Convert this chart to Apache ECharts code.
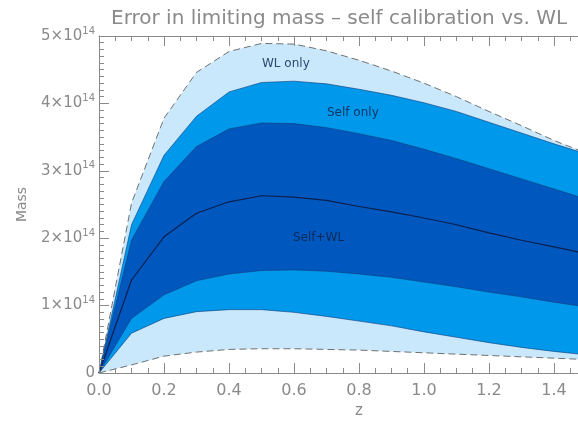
<!DOCTYPE html>
<html>
<head>
<meta charset="utf-8">
<script src="https://cdn.jsdelivr.net/npm/echarts@6/dist/echarts.min.js"></script>
<style>
  html, body { margin: 0; padding: 0; background: #fff; }
  #chart { width: 578px; height: 421px; }
</style>
</head>
<body>
<div id="chart"></div>
<script>
// redshift samples
var zs = [0, 0.1, 0.2, 0.3, 0.4, 0.5, 0.6, 0.7, 0.8, 0.9, 1.0, 1.1, 1.2, 1.3, 1.4, 1.5];
// limiting mass, units of 1e14
var wlUpper   = [0, 2.52, 3.78, 4.46, 4.77, 4.89, 4.88, 4.78, 4.64, 4.48, 4.30, 4.10, 3.88, 3.67, 3.45, 3.26];
var selfUpper = [0, 2.20, 3.23, 3.81, 4.17, 4.31, 4.33, 4.29, 4.21, 4.12, 4.01, 3.88, 3.72, 3.56, 3.40, 3.25];
var swUpper   = [0, 1.97, 2.84, 3.36, 3.62, 3.71, 3.70, 3.64, 3.55, 3.45, 3.32, 3.18, 3.03, 2.88, 2.73, 2.58];
var center    = [0, 1.38, 2.02, 2.37, 2.54, 2.63, 2.61, 2.56, 2.47, 2.39, 2.30, 2.20, 2.08, 1.97, 1.87, 1.77];
var swLower   = [0, 0.81, 1.16, 1.37, 1.47, 1.52, 1.53, 1.51, 1.47, 1.42, 1.35, 1.28, 1.20, 1.13, 1.05, 0.98];
var selfLower = [0, 0.59, 0.81, 0.91, 0.94, 0.94, 0.90, 0.84, 0.77, 0.70, 0.61, 0.53, 0.45, 0.38, 0.32, 0.27];
var wlLower   = [0, 0.12, 0.25, 0.31, 0.35, 0.36, 0.36, 0.35, 0.34, 0.32, 0.30, 0.28, 0.26, 0.24, 0.22, 0.20];

var SCALE = 1e14;
var LIGHT = "#c9e8fb", MID = "#0098ea", DARK = "#0058bf";
var GREY = "#8a8a8a";
var FONT = "DejaVu Sans";

function pairs(arr) {
  return zs.map(function (z, i) { return [z, arr[i] * SCALE]; });
}

// each curve is filled down to zero, drawn top to bottom so the lower ones paint over
function curve(name, arr, fill, line, z) {
  return {
    name: name,
    type: "line",
    symbol: "none",
    data: pairs(arr),
    lineStyle: line,
    areaStyle: { color: fill, opacity: 1 },
    silent: true,
    z: z
  };
}

var thin = { color: "#123a78", width: 0.6 };
var dashed = { color: "#707070", width: 1, type: [7, 4] };

function axisCommon(extra) {
  var base = {
    z: 10,
    axisLine: { show: true, lineStyle: { color: GREY } },
    axisTick: { show: true, inside: true, length: 10, lineStyle: { color: GREY } },
    splitLine: { show: false }
  };
  for (var k in extra) base[k] = extra[k];
  return base;
}

var chart = echarts.init(document.getElementById("chart"));
chart.setOption({
  animation: false,
  backgroundColor: "#fff",
  title: {
    text: "Error in limiting mass \u2013 self calibration vs. WL",
    left: 106,
    top: 4,
    textStyle: { color: GREY, fontFamily: FONT, fontWeight: "normal", fontSize: 20 }
  },
  // plot runs off the right edge, as in the cropped original
  grid: { left: 99, top: 36, right: -41, bottom: 48, containLabel: false, outerBoundsMode: "none" },
  xAxis: [axisCommon({
    type: "value",
    min: 0,
    max: 1.6,
    interval: 0.2,
    name: "z",
    nameLocation: "middle",
    nameGap: 29,
    nameTextStyle: { color: GREY, fontFamily: FONT, fontSize: 15 },
    minorTick: { show: true, splitNumber: 4, length: 5, lineStyle: { color: GREY } },
    axisLabel: {
      color: GREY, fontFamily: FONT, fontSize: 16, margin: 10,
      formatter: function (v) { return v.toFixed(1); }
    }
  }), axisCommon({
    type: "value",
    position: "top",
    min: 0,
    max: 1.6,
    interval: 0.2,
    minorTick: { show: true, splitNumber: 4, length: 5, lineStyle: { color: GREY } },
    axisLabel: { show: false }
  })],
  yAxis: axisCommon({
    type: "value",
    min: 0,
    max: 5e14,
    interval: 1e14,
    name: "Mass",
    nameLocation: "middle",
    nameGap: 70,
    nameTextStyle: { color: GREY, fontFamily: FONT, fontSize: 14 },
    minorTick: { show: true, splitNumber: 10, length: 5, lineStyle: { color: GREY } },
    axisLabel: {
      margin: 4,
      formatter: function (v) {
        if (v === 0) return "{m|0}";
        return "{m|" + Math.round(v / SCALE) + "\u00d710}{s|14}";
      },
      rich: {
        m: { color: GREY, fontFamily: FONT, fontSize: 15 },
        s: { color: GREY, fontFamily: FONT, fontSize: 10, padding: [0, 0, 10, 0] }
      }
    }
  }),
  series: [
    curve("WL upper", wlUpper, LIGHT, dashed, 2),
    curve("Self upper", selfUpper, MID, thin, 3),
    curve("Self+WL upper", swUpper, DARK, thin, 4),
    curve("Self+WL lower", swLower, MID, thin, 5),
    curve("Self lower", selfLower, LIGHT, thin, 6),
    curve("WL lower", wlLower, "#ffffff", dashed, 7),
    {
      name: "Self+WL",
      type: "line",
      symbol: "none",
      data: pairs(center),
      lineStyle: { color: "#0a1f4d", width: 1.2 },
      silent: true,
      z: 8
    }
  ],
  graphic: [
    { type: "text", left: 262, top: 58, z: 20, style: { text: "WL only", fill: "#2d4a6e", font: "12px " + FONT } },
    { type: "text", left: 327, top: 107, z: 20, style: { text: "Self only", fill: "#0d3766", font: "12px " + FONT } },
    { type: "text", left: 293, top: 232, z: 20, style: { text: "Self+WL", fill: "#0b2a5a", font: "12px " + FONT } }
  ]
});
</script>
</body>
</html>
